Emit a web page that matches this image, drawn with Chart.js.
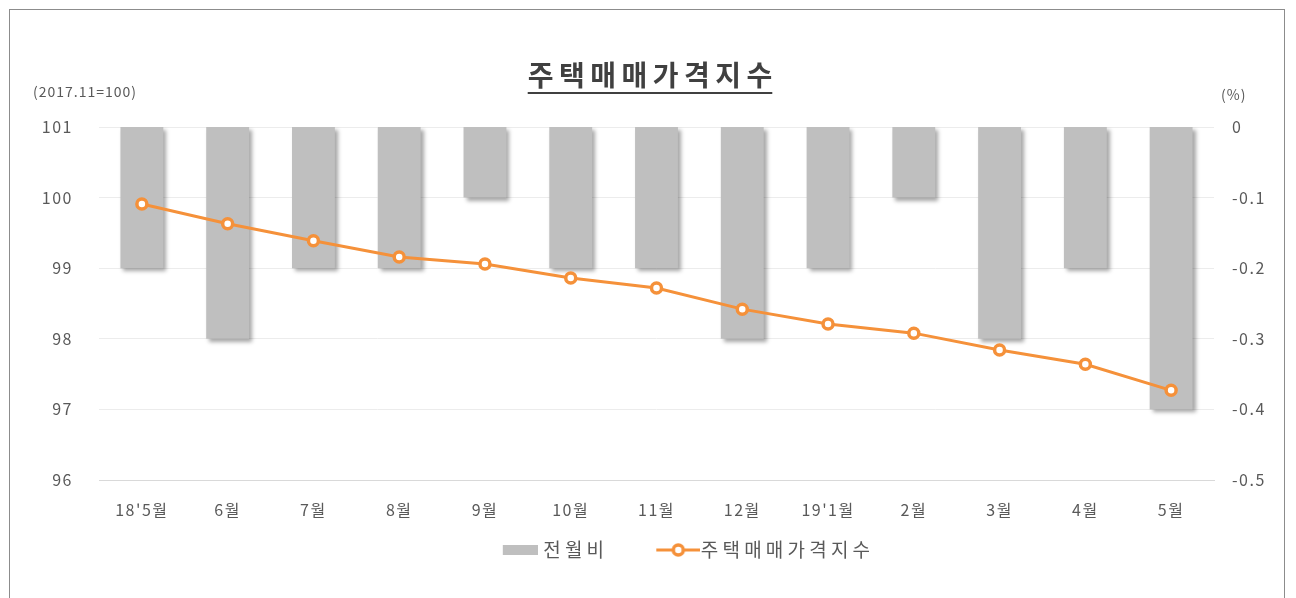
<!DOCTYPE html>
<html>
<head>
<meta charset="utf-8">
<script src="https://cdn.jsdelivr.net/npm/chart.js@4.4.1/dist/chart.umd.min.js"></script>
<style>
  html, body { margin: 0; padding: 0; background: #fff; }
  #frame { position: absolute; left: 9px; top: 9px; width: 1276px; height: 620px; border: 1px solid #8c8c8c; box-sizing: border-box; }
  #wrap { position: absolute; left: 0; top: 0; width: 1296px; height: 598px; }
</style>
</head>
<body>
<div id="frame"></div>
<div id="wrap"><canvas id="chart" width="1296" height="598"></canvas></div>
<script>
const labels = ["18'5월", "6월", "7월", "8월", "9월", "10월", "11월", "12월", "19'1월", "2월", "3월", "4월", "5월"];
const monthChange = [-0.2, -0.3, -0.2, -0.2, -0.1, -0.2, -0.2, -0.3, -0.2, -0.1, -0.3, -0.2, -0.4];
const priceIndex = [99.91, 99.63, 99.39, 99.16, 99.06, 98.86, 98.72, 98.42, 98.21, 98.08, 97.84, 97.64, 97.27];
const leftTicks = [96, 97, 98, 99, 100, 101];
const rightTicks = [-0.5, -0.4, -0.3, -0.2, -0.1, 0];

const FONT = "'Noto Sans CJK KR', 'Noto Sans', sans-serif";
const GREY = "#bfbfbf";
const ORANGE = "#f5913a";
const TEXT = "#595959";
const LEGEND_PAD = 47;
const LEGEND_FONT = 19;
const LEGEND_SPACING = "4.2px";

Chart.defaults.font.family = FONT;
Chart.defaults.color = TEXT;

// legend icons (drawn centred on the legend box)
function barIcon() {
    const c = document.createElement("canvas");
    c.width = 44; c.height = 10;
    const g = c.getContext("2d");
    g.fillStyle = GREY;
    g.fillRect(9, 0, 35, 10);
    return c;
}
function lineIcon() {
    const c = document.createElement("canvas");
    c.width = 54; c.height = 16;
    const g = c.getContext("2d");
    g.strokeStyle = ORANGE;
    g.lineWidth = 3;
    g.beginPath(); g.moveTo(10, 8); g.lineTo(54, 8); g.stroke();
    g.fillStyle = "#fff";
    g.lineWidth = 3.5;
    g.beginPath(); g.arc(32, 8, 5, 0, Math.PI * 2); g.fill(); g.stroke();
    return c;
}
const icons = [barIcon(), lineIcon()];

function withSpacing(fn, spacing) {
    return function () {
        const c = this.ctx;
        const prev = c.letterSpacing;
        c.letterSpacing = spacing;
        const r = fn.apply(this, arguments);
        c.letterSpacing = prev;
        return r;
    };
}

// title, units, bar shadow, legend placement
const decor = {
    id: "decor",
    beforeLayout(chart) {
        const lg = chart.legend;
        if (lg && !lg._spaced) {
            lg.fit = withSpacing(lg.fit, LEGEND_SPACING);
            lg.draw = withSpacing(lg.draw, LEGEND_SPACING);
            lg._spaced = true;
        }
    },
    afterLayout(chart) {
        const lg = chart.legend;
        if (!lg) return;
        lg.left += 38;
        lg.right += 38;
        lg.top = 550 - LEGEND_PAD - LEGEND_FONT / 2;
        lg.bottom = 598;
        lg.height = lg.bottom - lg.top;
    },
    beforeDraw(chart) {
        chart.ctx.letterSpacing = "1.5px";
    },
    beforeDatasetDraw(chart, args) {
        if (args.meta.type === "bar") {
            const ctx = chart.ctx;
            ctx.save();
            ctx.shadowColor = "rgba(0,0,0,0.35)";
            ctx.shadowOffsetX = 3;
            ctx.shadowOffsetY = 3;
            ctx.shadowBlur = 4;
        }
    },
    afterDatasetDraw(chart, args) {
        if (args.meta.type === "bar") chart.ctx.restore();
    },
    afterDraw(chart) {
        const ctx = chart.ctx;
        ctx.save();
        ctx.fillStyle = "#404040";
        ctx.font = "bold 28px " + FONT;
        ctx.letterSpacing = "5.5px";
        ctx.textAlign = "left";
        ctx.textBaseline = "alphabetic";
        const title = "주택매매가격지수";
        const w = ctx.measureText(title).width - 5.5;
        const tx = 650 - w / 2, ty = 86;
        ctx.fillText(title, tx, ty);
        ctx.fillRect(tx, ty + 6, w, 2);

        ctx.fillStyle = TEXT;
        ctx.font = "14px " + FONT;
        ctx.letterSpacing = "1px";
        ctx.fillText("(2017.11=100)", 33, 97);
        ctx.fillText("(%)", 1221, 100);
        ctx.restore();
    }
};

const data = {
    labels: labels,
    datasets: [
        {
            type: "bar",
            label: "전월비",
            data: monthChange,
            yAxisID: "y1",
            backgroundColor: GREY,
            barPercentage: 0.5,
            categoryPercentage: 1,
            order: 1,
        },
        {
            type: "line",
            label: "주택매매가격지수",
            data: priceIndex,
            yAxisID: "y",
            borderColor: ORANGE,
            borderWidth: 3,
            pointRadius: 5,
            pointBorderWidth: 3.5,
            pointBackgroundColor: "#fff",
            pointBorderColor: ORANGE,
            order: 0,
        },
    ],
};

const config = {
    data: data,
    options: {
        responsive: false,
        animation: false,
        layout: {
            padding: { top: 127, bottom: 20, left: 20, right: 20 },
        },
        scales: {
            x: {
                grid: { display: false },
                border: { color: "#d9d9d9" },
                ticks: { font: { size: 16 }, padding: 12 },
                afterFit: (s) => { s.height = 40; },
            },
            y: {
                position: "left",
                min: 96,
                max: 101,
                afterBuildTicks: (s) => { s.ticks = leftTicks.map((v) => ({ value: v })); },
                grid: { color: "#ececec", drawTicks: false },
                border: { display: false },
                ticks: { font: { size: 16 }, padding: 26 },
                afterFit: (s) => { s.width = 79; },
            },
            y1: {
                position: "right",
                min: -0.5,
                max: 0,
                afterBuildTicks: (s) => { s.ticks = rightTicks.map((v) => ({ value: v })); },
                grid: { display: false, drawTicks: false },
                border: { display: false },
                ticks: { font: { size: 16 }, padding: 18 },
                afterFit: (s) => { s.width = 62; },
            },
        },
        plugins: {
            legend: {
                position: "bottom",
                maxHeight: 58,
                labels: {
                    usePointStyle: true,
                    pointStyleWidth: 36,
                    font: { size: LEGEND_FONT },
                    color: TEXT,
                    padding: LEGEND_PAD,
                    sort: (a, b) => a.datasetIndex - b.datasetIndex,
                    generateLabels(chart) {
                        const items = Chart.defaults.plugins.legend.labels.generateLabels(chart);
                        items.forEach((it) => { it.pointStyle = icons[it.datasetIndex]; });
                        return items;
                    },
                },
            },
            tooltip: { enabled: false },
        },
    },
    plugins: [decor],
};

new Chart(document.getElementById("chart"), config);
</script>
</body>
</html>
